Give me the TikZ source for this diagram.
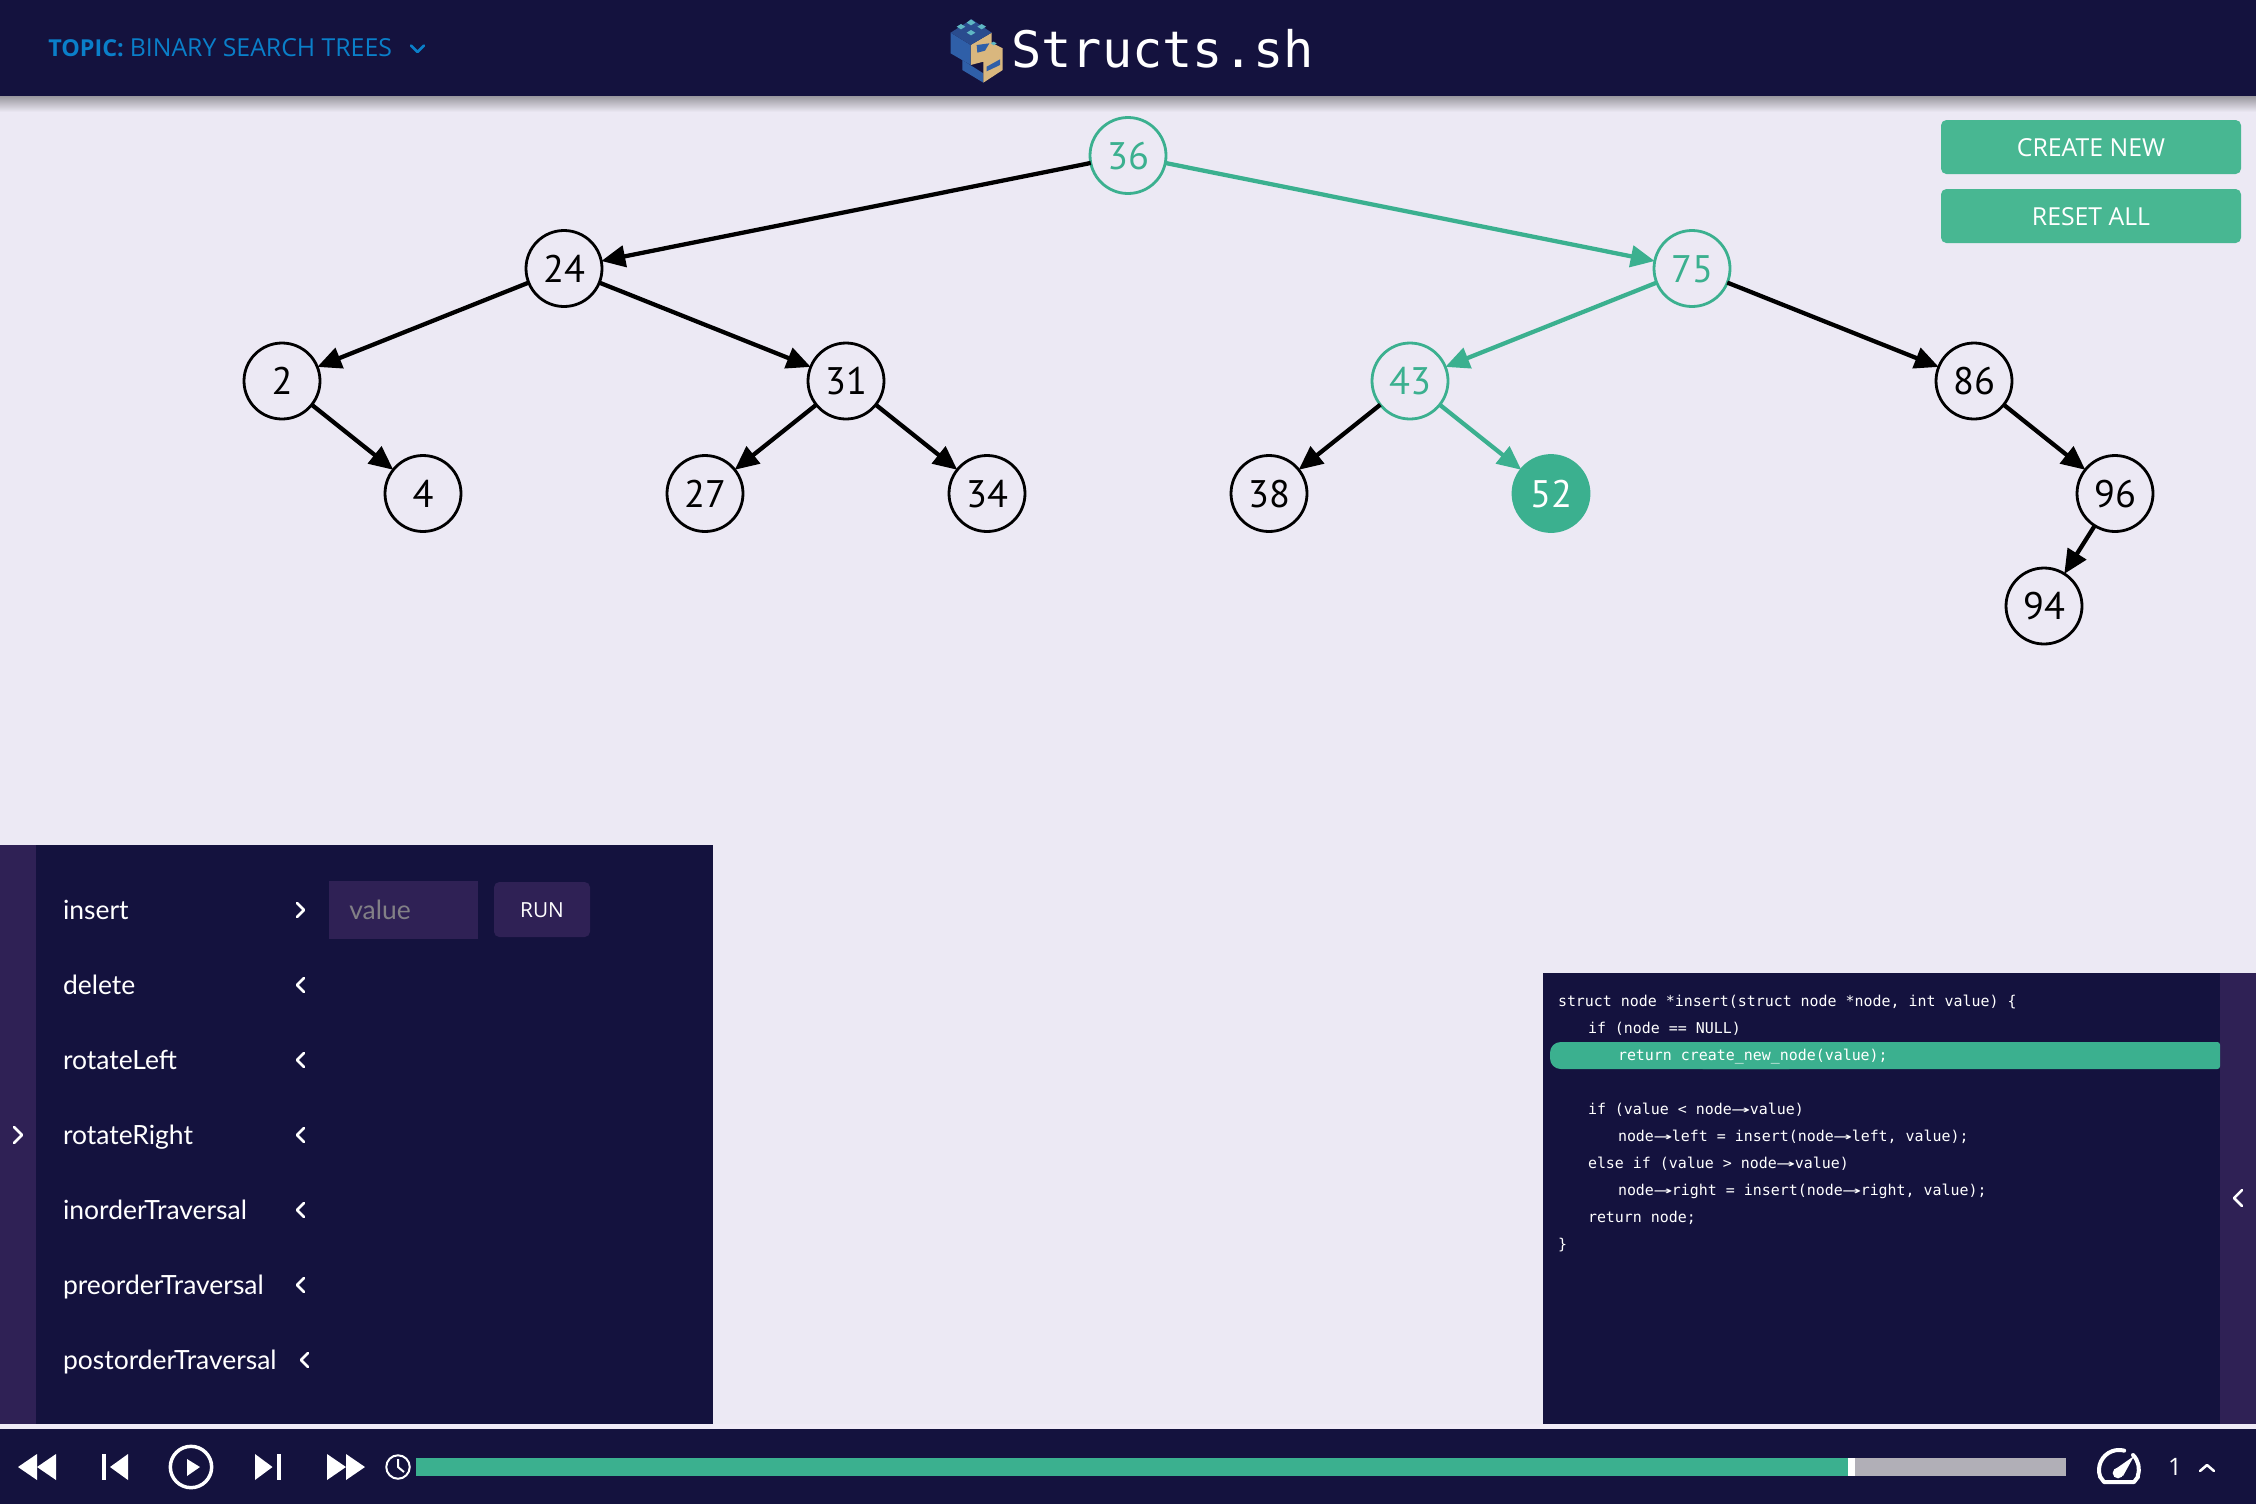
\documentclass[tikz,border=0pt]{standalone}
\usepackage{fontspec}
\usetikzlibrary{arrows.meta}
\setmainfont{Open Sans}
\newfontfamily\listfont{Lato}
\newfontfamily\numfont{PT Sans}
\newfontfamily\monofont{DejaVu Sans Mono}
\newcommand{\fs}[1]{\fontsize{#1}{#1}\selectfont}
\newcommand{\codearrow}{\makebox[1.204em][c]{\scalebox{2.1}[1]{→}}}
\definecolor{navy}{HTML}{14123E}
\definecolor{strip}{HTML}{2F2155}
\definecolor{page}{HTML}{ECE9F4}
\definecolor{band}{HTML}{F0EBF7}
\definecolor{teal}{HTML}{3BB08F}
\definecolor{btn}{HTML}{48B792}
\definecolor{topic}{HTML}{0A7FC9}
\definecolor{tan}{HTML}{D9B77E}
\definecolor{cubeblue}{HTML}{2F5FA8}
\definecolor{cubedark}{HTML}{2A4C8E}
\definecolor{cubestud}{HTML}{5FB7C4}
\tikzset{
  x=.75pt,y=-.75pt,
  bst/.style={circle,minimum size=57pt,inner sep=0pt,outer sep=0pt,line width=2.1pt,font=\numfont\fs{28.8},text height=20.4pt,text depth=0pt},
  plain/.style={bst,draw=black,fill=page,text=black},
  path node/.style={bst,draw=teal,fill=page,text=teal},
  found/.style={bst,draw=teal,fill=teal,text=white},
  edge/.style={line width=3.2pt,draw=black,-{Triangle[length=18pt,width=16pt]}},
  hot/.style={edge,draw=teal,-{Triangle[length=18pt,width=16pt,color=teal]}},
  action/.style={anchor=base west,inner sep=0pt,outer sep=0pt,text=white,font=\listfont\fs{19.85}},
  codeline/.style={anchor=base west,inner sep=0pt,outer sep=0pt,text=white,font=\monofont\fs{11.2}},
  chev/.style={draw=white,line width=1.9pt,line cap=round,line join=round},
  icon/.style={fill=white,draw=none},
  stroke/.style={draw=white,line width=2.6pt},
  btnbox/.style={fill=btn,rounded corners=4pt},
  btntext/.style={inner sep=0pt,text=white,font=\fs{18.6}},
}
\begin{document}
\begin{tikzpicture}
\useasboundingbox (0,0) rectangle (2256,1504);
\fill[page] (0,0) rectangle (2256,1504);
% header
\shade[top color=black!35!page,bottom color=page] (0,96) rectangle (2256,112);
\fill[navy] (0,0) rectangle (2256,96);
\node[anchor=base west,inner sep=0pt,text=topic] (topic) at (48,56) {\fs{17.5}\textbf{TOPIC:} \fs{18.6}BINARY SEARCH TREES};
\draw[draw=topic,line width=1.9pt,line cap=round,line join=round] (411,45.5) -- (417.5,52) -- (424,45.5);
\node[anchor=base west,inner sep=0pt,text=white,font=\monofont\fs{37.7}] (title) at (1011,67) {Structs.sh};
% logo
\begin{scope}[shift={(930,10)},x=.25pt,y=-.25pt]
\fill[cubeblue] (97,150) -- (160,190) -- (160,218) -- (97,180) -- cycle;
\fill[tan] (122,105) -- (185,68) -- (185,98) -- (218,115) -- (218,180) -- (160,218) -- (160,155) -- (122,165) -- cycle;
\fill[cubeblue] (62,68) -- (122,105) -- (122,165) -- (62,130) -- cycle;
\fill[cubedark] (62,68) -- (125,28) -- (185,68) -- (122,105) -- cycle;
\fill[cubeblue] (170,170) -- (210,148) -- (210,165) -- (170,184) -- cycle;
\fill[cubeblue] (140,105) -- (178,100) -- (165,122) -- (142,128) -- cycle;
\fill[cubestud] (110,38) -- (123,28) -- (136,38) -- (123,46) -- cycle;
\fill[cubestud] (80,50) -- (93,42) -- (106,50) -- (93,58) -- cycle;
\fill[cubestud] (142,50) -- (155,42) -- (168,50) -- (155,58) -- cycle;
\fill[cubestud] (110,68) -- (123,60) -- (136,68) -- (123,76) -- cycle;
\fill[cubestud] (182,100) -- (191,95) -- (200,100) -- (191,106) -- cycle;
\end{scope}
% buttons
\fill[btnbox] (1941,120) rectangle (2241,174);
\fill[btnbox] (1941,189) rectangle (2241,243);
\node[btntext] (create) at (2091,148) {CREATE NEW};
\node[btntext] (reset) at (2091,217) {RESET ALL};
% tree
\node[path node] (n36) at (1128,155.5) {36};
\node[plain] (n24) at (564,268.5) {24};
\node[path node] (n75) at (1692,268.5) {75};
\node[plain] (n2) at (282,381) {2};
\node[plain] (n31) at (846,381) {31};
\node[path node] (n43) at (1410,381) {43};
\node[plain] (n86) at (1974,381) {86};
\node[plain] (n4) at (423,493.5) {4};
\node[plain] (n27) at (705,493.5) {27};
\node[plain] (n34) at (987,493.5) {34};
\node[plain] (n38) at (1269,493.5) {38};
\node[found] (n52) at (1551,493.5) {52};
\node[plain] (n96) at (2115,493.5) {96};
\node[plain] (n94) at (2044,606) {94};
\draw[edge] (n36) -- (n24);
\draw[hot] (n36) -- (n75);
\draw[edge] (n24) -- (n2);
\draw[edge] (n24) -- (n31);
\draw[hot] (n75) -- (n43);
\draw[edge] (n75) -- (n86);
\draw[edge] (n2) -- (n4);
\draw[edge] (n31) -- (n27);
\draw[edge] (n31) -- (n34);
\draw[edge] (n43) -- (n38);
\draw[hot] (n43) -- (n52);
\draw[edge] (n86) -- (n96);
\draw[edge] (n96) -- (n94);
% left panel
\fill[navy] (0,845) rectangle (713,1424);
\fill[strip] (0,845) rectangle (36,1424);
\draw[chev] (14,1127) -- (22,1135) -- (14,1143);
\node[action] (a1) at (63,919.5) {insert};
\node[action] (a2) at (63,994.5) {delete};
\node[action] (a3) at (63,1069.5) {rotateLeft};
\node[action] (a4) at (63,1144.5) {rotateRight};
\node[action] (a5) at (63,1219.5) {inorderTraversal};
\node[action] (a6) at (63,1294.5) {preorderTraversal};
\node[action] (a7) at (63,1369.5) {postorderTraversal};
\draw[chev] (297,903) -- (304,910) -- (297,917);
\draw[chev] (304,978) -- (297,985) -- (304,992);
\draw[chev] (304,1053) -- (297,1060) -- (304,1067);
\draw[chev] (304,1128) -- (297,1135) -- (304,1142);
\draw[chev] (304,1203) -- (297,1210) -- (304,1217);
\draw[chev] (304,1278) -- (297,1285) -- (304,1292);
\draw[chev] (308,1353) -- (301,1360) -- (308,1367);
\fill[strip] (329,881) rectangle (478,939);
\node[anchor=base west,inner sep=0pt,text=black!45!page,font=\listfont\fs{19.85}] (val) at (349,919.5) {value};
\fill[strip,rounded corners=4pt] (494,882) rectangle (590,937);
\node[inner sep=0pt,text=white,font=\fs{15.6}] (run) at (542,910) {RUN};
% code panel
\fill[navy] (1543,973) rectangle (2220,1424);
\fill[strip] (2220,973) rectangle (2256,1424);
\draw[chev] (2242,1190) -- (2234,1198) -- (2242,1206);
\fill[teal,rounded corners=8pt] (1550,1042) rectangle (1800,1069);
\fill[teal,rounded corners=2pt] (1700,1042) rectangle (2220,1069);
\node[codeline] (c1) at (1558,1006) {struct node *insert(struct node *node, int value) \{};
\node[codeline] (c2) at (1588,1033) {if (node == NULL)};
\node[codeline] (c3) at (1618,1060) {return create\_new\_node(value);};
\node[codeline] (c4) at (1588,1114) {if (value < node\codearrow value)};
\node[codeline] (c5) at (1618,1141) {node\codearrow left = insert(node\codearrow left, value);};
\node[codeline] (c6) at (1588,1168) {else if (value > node\codearrow value)};
\node[codeline] (c7) at (1618,1195) {node\codearrow right = insert(node\codearrow right, value);};
\node[codeline] (c8) at (1588,1222) {return node;};
\node[codeline] (c9) at (1558,1249) {\}};
% player bar
\fill[band] (0,1424) rectangle (2256,1429);
\fill[navy] (0,1429) rectangle (2256,1504);
\fill[icon] (18,1467) -- (37,1454) -- (37,1480) -- cycle;
\fill[icon] (37,1467) -- (56,1454) -- (56,1480) -- cycle;
\fill[icon] (102,1454) rectangle (106,1480);
\fill[icon] (110,1467) -- (128,1454) -- (128,1480) -- cycle;
\draw[stroke] (191,1467) circle[radius=15.5pt];
\fill[icon] (187,1459) -- (200,1467) -- (187,1476) -- cycle;
\fill[icon] (255,1454) -- (272.5,1467) -- (255,1480) -- cycle;
\fill[icon] (277,1454) rectangle (281,1480);
\fill[icon] (327,1454) -- (346,1467) -- (327,1480) -- cycle;
\fill[icon] (346,1454) -- (365,1467) -- (346,1480) -- cycle;
\draw[draw=white,line width=1.5pt] (398,1467) circle[radius=8.8pt];
\draw[draw=white,line width=1.5pt] (398,1459) -- (398,1467) -- (404,1472);
\fill[teal] (416,1458) rectangle (1848,1476);
\fill[white] (1848,1458) rectangle (1855,1476);
\fill[black!25!page] (1855,1458) rectangle (2066,1476);
\draw[stroke,line width=3pt,line cap=round] (2100.2,1476.8) arc[start angle=200,end angle=75,radius=15pt];
\draw[stroke,line width=3pt,line cap=round] (2133,1455) arc[start angle=45,end angle=-20,radius=15pt];
\draw[stroke,line width=3pt,line cap=round,line join=round] (2100.2,1476.8) -- (2104,1482) -- (2134,1482) -- (2138,1476.8);
\fill[icon] (2134,1456) -- (2123,1476) -- (2114,1470) -- cycle;
\fill[icon] (2118,1473) circle[radius=4pt];
\node[inner sep=0pt,text=white,font=\fs{18}] (speed) at (2175,1467) {1};
\draw[chev] (2200,1471) -- (2207,1465) -- (2214,1471);
\end{tikzpicture}
\end{document}
